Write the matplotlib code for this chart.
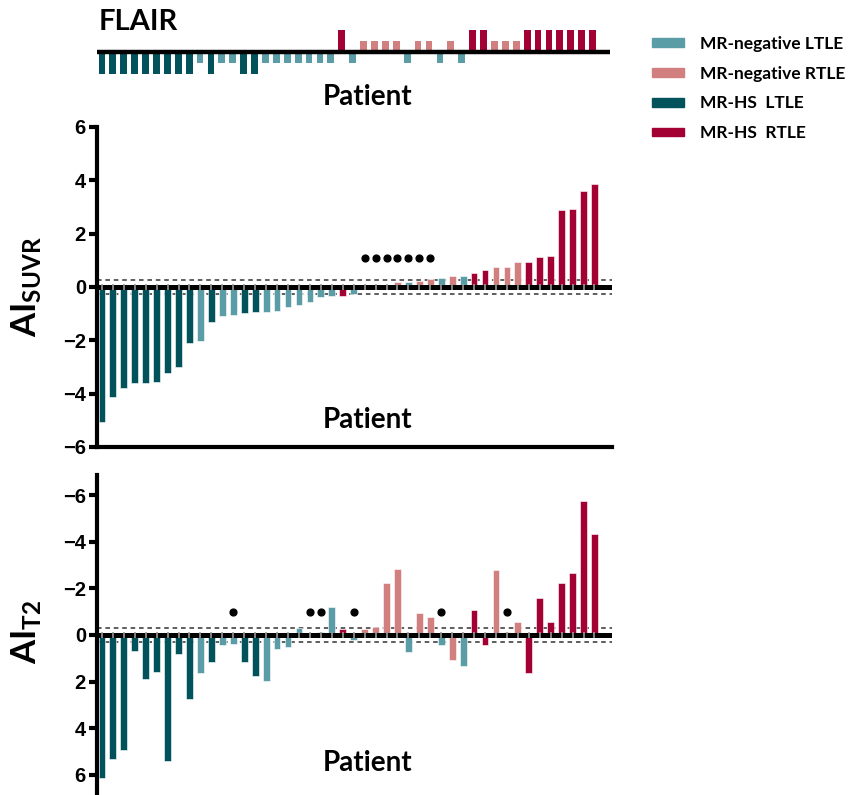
import matplotlib.pyplot as plt
from matplotlib.patches import Patch
import numpy as np

plt.rcParams['font.family'] = ['Lato', 'DejaVu Sans']
plt.rcParams['mathtext.fontset'] = 'custom'
plt.rcParams['mathtext.rm'] = 'Lato'
plt.rcParams['mathtext.bf'] = 'Lato:bold'

# groupes des patients (meme ordre dans les trois panneaux)
groups = ['HL'] * 9 + ['NL', 'HL', 'NL', 'NL', 'HL', 'HL'] + ['NL'] * 7 + \
         ['HR', 'NL', 'NR', 'NR', 'NR', 'NR', 'NL', 'NR', 'NR', 'NL', 'NR', 'NL',
          'HR', 'HR', 'NR', 'NR', 'NR'] + ['HR'] * 7

flair = [-2, -2, -2, -2, -2, -2, -2, -2, -2, -1, -2, -1, -1, -2, -2, -1, -1, -1, -1, -1, -1, -1,
         2, -1, 1, 1, 1, 1, -1, 1, 1, -1, 1, -1, 2, 2, 1, 1, 1, 2, 2, 2, 2, 2, 2, 2]

suvr = [-5.07, -4.11, -3.80, -3.61, -3.59, -3.55, -3.21, -3.00, -2.09, -2.01, -1.33, -1.08,
        -1.04, -0.99, -0.95, -0.94, -0.90, -0.76, -0.69, -0.56, -0.39, -0.35, -0.35, -0.28,
        0.0, 0.0, 0.0, 0.18, 0.20, 0.24, 0.31, 0.34, 0.41, 0.41, 0.51, 0.64, 0.76, 0.76,
        0.94, 0.94, 1.11, 1.15, 2.89, 2.93, 3.59, 3.86]

t2 = [6.14, 5.31, 4.93, 0.67, 1.89, 1.57, 5.40, 0.81, 2.76, 1.61, 1.17, 0.43, 0.40, 1.17,
      1.77, 1.97, 0.59, 0.50, -0.31, -0.06, -0.12, -1.19, -0.27, 0.22, -0.24, -0.36, -2.21,
      -2.81, 0.71, -0.93, -0.79, 0.43, 1.07, 1.31, -1.07, 0.43, -2.79, -0.14, -0.54, 1.61,
      -1.57, -0.54, -2.21, -2.67, -5.76, -4.33]

suvr_dots = [24, 25, 26, 27, 28, 29, 30]
t2_dots = [12, 19, 20, 23, 31, 37]

colors = {'NL': '#5a9da7', 'NR': '#d27f80', 'HL': '#02525c', 'HR': '#a30034'}
labels = {'NL': 'MR-negative LTLE', 'NR': 'MR-negative RTLE',
          'HL': 'MR-HS  LTLE', 'HR': 'MR-HS  RTLE'}

x = np.arange(len(groups))
c = [colors[g] for g in groups]
W, H = 861, 795
xlim = (-0.45, 46.6)

fig = plt.figure(figsize=(W / 100, H / 100), dpi=100)


def box(left, top, right, bottom):
    return [left / W, 1 - bottom / H, (right - left) / W, (bottom - top) / H]


def zero_line(ax, thr):
    ax.axhline(0, color='black', lw=3.6, zorder=3)
    ax.axhline(thr, color='#333333', lw=1.1, ls=(0, (3, 2.5)), zorder=1)
    ax.axhline(-thr, color='#333333', lw=1.1, ls=(0, (3, 2.5)), zorder=1)
    ax.scatter(x, np.zeros(len(x)), marker='|', s=14, color='#999999', lw=1.2, zorder=4)


# FLAIR
ax0 = fig.add_axes(box(97, 23.5, 610, 80.5))
ax0.bar(x, flair, width=0.62, color=c, zorder=2)
ax0.axhline(0, color='black', lw=3.2, zorder=3)
ax0.set_xlim(xlim)
ax0.set_ylim(-2.6, 2.6)
ax0.axis('off')
fig.text(138 / W, 1 - 22 / H, 'FLAIR', fontsize=21, fontweight='bold', ha='center', va='center')
fig.text(368 / W, 1 - 97 / H, 'Patient', fontsize=20, fontweight='bold', ha='center', va='center')

# AI SUVR
ax1 = fig.add_axes(box(97, 127, 612, 447))
ax1.bar(x, suvr, width=0.62, color=c, edgecolor='white', lw=0.4, zorder=2)
zero_line(ax1, 0.28)
ax1.scatter([x[i] for i in suvr_dots], [1.07] * len(suvr_dots), s=24, color='black', zorder=4)
ax1.set_xlim(xlim)
ax1.set_ylim(-6, 6)
ax1.set_yticks([-6, -4, -2, 0, 2, 4, 6])
ax1.set_xticks([])
ax1.spines[['top', 'right']].set_visible(False)
ax1.spines[['left', 'bottom']].set_linewidth(3)
ax1.tick_params(axis='y', width=3, length=6, pad=2, labelsize=14.5)
fig.text(27 / W, 1 - 287 / H, r'$\mathbf{AI_{SUVR}}$', fontsize=25, rotation=90,
         ha='center', va='center')
ax1.text(0.525, 0.085, 'Patient', transform=ax1.transAxes, fontsize=20,
         fontweight='bold', ha='center', va='center')

# AI T2
ax2 = fig.add_axes(box(97, 475, 612, 795))
ax2.bar(x, t2, width=0.62, color=c, edgecolor='white', lw=0.4, zorder=2)
zero_line(ax2, 0.3)
ax2.scatter([x[i] for i in t2_dots], [-1.0] * len(t2_dots), s=24, color='black', zorder=4)
ax2.set_xlim(xlim)
ax2.set_ylim(6.86, -6.86)
ax2.set_yticks([-6, -4, -2, 0, 2, 4, 6])
ax2.set_xticks([])
ax2.spines[['top', 'right', 'bottom']].set_visible(False)
ax2.spines['left'].set_linewidth(3)
ax2.tick_params(axis='y', width=3, length=6, pad=2, labelsize=14.5)
fig.text(27 / W, 1 - 632 / H, r'$\mathbf{AI_{T2}}$', fontsize=25, rotation=90,
         ha='center', va='center')
ax2.text(0.525, 0.1, 'Patient', transform=ax2.transAxes, fontsize=20,
         fontweight='bold', ha='center', va='center')
for t in ax1.get_yticklabels() + ax2.get_yticklabels():
    t.set_fontweight('bold')
    t.set_family(['Liberation Sans', 'DejaVu Sans'])

handles = [Patch(color=colors[k], label=labels[k]) for k in ['NL', 'NR', 'HL', 'HR']]
leg = fig.legend(handles=handles, loc='upper left', bbox_to_anchor=(636 / W, 1 - 20 / H),
                 frameon=False, fontsize=12.5, handlelength=1.84, handleheight=0.4,
                 handletextpad=0.92, labelspacing=0.8)
for t in leg.get_texts():
    t.set_fontweight('bold')

fig.savefig('out.png', dpi=100)
